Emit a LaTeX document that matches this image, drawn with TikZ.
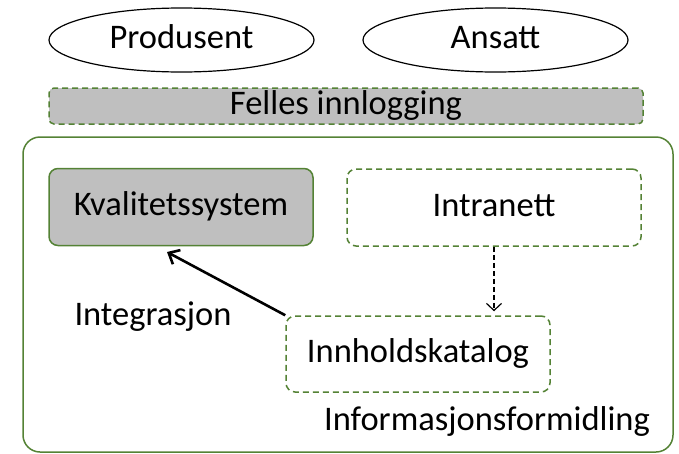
\documentclass[tikz,border=0pt]{standalone}
\usepackage{fontspec}
\setmainfont{Carlito}
\usetikzlibrary{shapes.geometric,arrows.meta}
\definecolor{boxgreen}{RGB}{84,130,53}
\definecolor{boxgray}{RGB}{191,191,191}

\begin{document}
\begin{tikzpicture}[x=1pt, y=-1pt,
		every node/.style={font=\fontsize{34.5}{40}\selectfont, inner sep=0pt, text height=24pt, text depth=7pt},
		role/.style={ellipse, draw, line width=1.2pt, minimum width=265pt, minimum height=64pt},
		system/.style={draw=boxgreen, line width=1.5pt, rounded corners=9pt, minimum height=77pt},
		planned/.style={system, dash pattern=on 6pt off 4pt}]
		\useasboundingbox (0, 0) rectangle (679, 453);

		\node at (181.5, 40) [role] (prod) {Produsent};
		\node at (495.5, 40) [role] (ans) {Ansatt};

		\node at (346, 106) [planned, fill=boxgray, minimum width=594pt, minimum height=36pt, rounded corners=5pt] (login) {Felles innlogging};

		\node at (348, 294.5) [system, rounded corners=17pt, minimum width=650pt, minimum height=315pt] (plattform) {};

		\node at (181, 207) [system, fill=boxgray, minimum width=264pt] (kvalitet) {Kvalitetssystem};
		\node at (494, 207.5) [planned, minimum width=294pt] (intra) {Intranett};
		\node at (418, 354) [planned, minimum width=264pt, minimum height=76pt] (katalog) {Innholdskatalog};

		\node at (153, 317) (integ) {Integrasjon};
		\node at (487, 422) (info) {Informasjonsformidling};

		\coordinate (integtip) at (167, 252);
		\draw [-{Straight Barb[length=9pt, width=16pt]}, line width=2.6pt] (katalog.north west) -- (integtip);
		\draw [-{Straight Barb[length=7pt, width=15pt]}, line width=1.2pt, dash pattern=on 5pt off 3pt] (intra.south) -- ([yshift=4pt]intra.south |- katalog.north);
	\end{tikzpicture}
\end{document}
